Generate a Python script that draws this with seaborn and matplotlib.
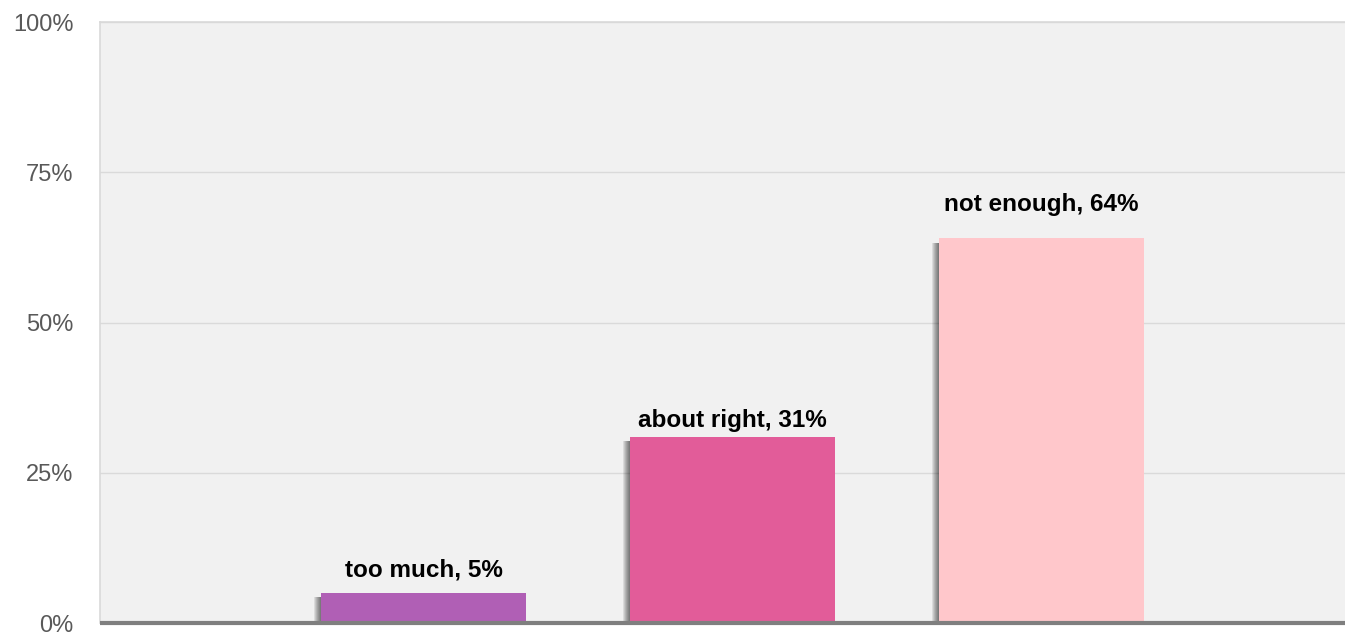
import matplotlib
matplotlib.use("Agg")
import matplotlib.pyplot as plt
import matplotlib.patheffects as pe
from matplotlib.ticker import FixedLocator
import seaborn as sns
import pandas as pd

categories = ["too much", "about right", "not enough"]
shares = [5, 31, 64]
colors = ["#B05FB5", "#E25C99", "#FFC7CB"]
ytick_values = [0, 25, 50, 75, 100]
ytick_labels = ["0%", "25%", "50%", "75%", "100%"]

df = pd.DataFrame({"answer": categories, "share": shares})

sns.set_theme(style="white")
plt.rcParams["font.family"] = ["Liberation Sans", "DejaVu Sans"]

fig = plt.figure(figsize=(13.45, 6.39), dpi=100)
ax = fig.add_axes([0.0743, 0.025, 0.9257, 0.9405])
ax.set_facecolor("#F1F1F1")

sns.barplot(data=df, x="answer", y="share", hue="answer", palette=colors,
            order=categories, hue_order=categories, width=0.663,
            saturation=1, dodge=False, legend=False, ax=ax, zorder=3)

# soft drop shadow on the left side of each bar
shadow = [pe.SimplePatchShadow(offset=(-0.75 * k, -3.0), shadow_rgbFace="black", alpha=0.09)
          for k in range(1, 8)]
for patch in ax.patches:
    patch.set_path_effects(shadow + [pe.Normal()])
    patch.set_linewidth(0)

# gap (points) between bar top and label baseline
label_gaps = [12.2, 7.2, 19.4]
for i, (name, val) in enumerate(zip(categories, shares)):
    ax.annotate(f"{name}, {val}%", xy=(i, val), xytext=(0, label_gaps[i]),
                textcoords="offset points", ha="center", va="baseline",
                fontsize=17.5, fontweight="bold", color="black", zorder=5)

ax.set_xlim(-1.047, 2.982)
ax.set_ylim(0, 100)
ax.yaxis.set_major_locator(FixedLocator(ytick_values))
ax.set_yticklabels(ytick_labels)
ax.set_xticks([])
ax.set_xlabel("")
ax.set_ylabel("")
ax.tick_params(axis="y", length=0, pad=19, labelsize=17, labelcolor="#595959")

ax.grid(axis="y", color="#DADADA", linewidth=1, zorder=0)
ax.set_axisbelow(True)

for side in ["top", "left"]:
    ax.spines[side].set_visible(True)
    ax.spines[side].set_color("#D9D9D9")
    ax.spines[side].set_linewidth(1.2)
ax.spines["right"].set_visible(False)
ax.spines["bottom"].set_color("#7F7F7F")
ax.spines["bottom"].set_linewidth(3)
ax.spines["bottom"].set_capstyle("butt")
ax.spines["bottom"].set_zorder(6)

fig.savefig("out.png", dpi=100)
